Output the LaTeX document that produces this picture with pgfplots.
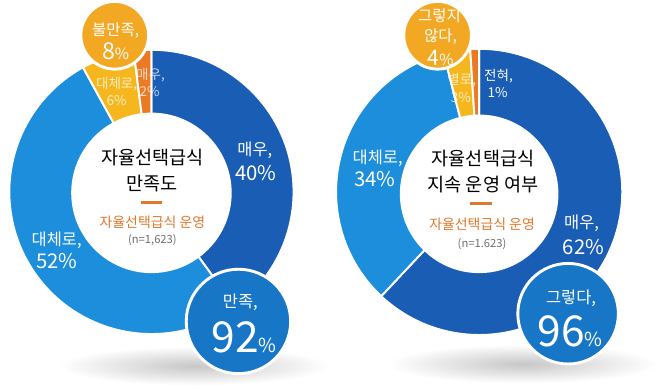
\documentclass[border=0pt]{standalone}
\usepackage{pgfplots}
\pgfplotsset{compat=1.18}
\usepackage{pgfplotstable}
\usepackage{fontspec}
\setmainfont{Noto Sans CJK KR}

\definecolor{dblue}{HTML}{1A5DB5}
\definecolor{lblue}{HTML}{1C8EDB}
\definecolor{ylw}{HTML}{F6B71E}
\definecolor{org}{HTML}{EC7A24}
\definecolor{cylw}{HTML}{F2A823}
\definecolor{cblue}{HTML}{1876C6}
\definecolor{txtorg}{HTML}{E0782C}
\definecolor{txtgray}{HTML}{6E6E6E}

% share in percent, clockwise from 12 o'clock
\pgfplotstableread{
share colour
40 dblue
52 lblue
6 ylw
2 org
}\satisfied
\pgfplotstableread{
share colour
62 dblue
34 lblue
3 ylw
1 org
}\continued

% one ring of wedges: table, centre x, centre y, radius (px; 1px = 0.5pt)
\newcommand\ring[4]{%
  \pgfplotstablegetrowsof{#1}%
  \pgfmathtruncatemacro\lastrow{\pgfplotsretval-1}%
  \def\angfrom{90}%
  \pgfplotsforeachungrouped \i in {0,...,\lastrow}{%
    \pgfplotstablegetelem{\i}{share}\of{#1}\let\share\pgfplotsretval
    \pgfplotstablegetelem{\i}{colour}\of{#1}\let\col\pgfplotsretval
    \pgfmathsetmacro\angto{\angfrom-3.6*\share}%
    \edef\drawwedge{\noexpand\fill[\col, draw=white, line width=1pt]
      (axis cs:#2,#3) -- ++(\angfrom:#4*0.5pt)
      arc[start angle=\angfrom, end angle=\angto, radius=#4*0.5pt] -- cycle;}%
    \drawwedge
    \global\let\angfrom\angto
  }%
}

\newcommand\fs[1]{\fontsize{#1}{#1}\selectfont}

\begin{document}
\begin{tikzpicture}[
    lbl/.style={text=white, inner sep=0pt, font=\fs{8.5}},
    num/.style={text=white, inner sep=0pt, font=\fs{10.5}},
    small/.style={text=white, text opacity=0.75, inner sep=0pt, font=\fs{7}},
  ]
  \begin{axis}[
      x=0.5pt, y=0.5pt,
      xmin=0, xmax=658, ymin=0, ymax=402,
      y dir=reverse,
      hide axis,
      clip=false,
    ]
    \path (axis cs:0,0) (axis cs:658,402);

    % shadows
    \shade[inner color=black!22, outer color=white] (axis cs:195,378) ellipse[x radius=70pt, y radius=10pt];
    \shade[inner color=black!22, outer color=white] (axis cs:535,376) ellipse[x radius=70pt, y radius=10pt];

    % left: satisfaction
    \ring{\satisfied}{151}{198}{147}
    \fill[white] (axis cs:151,199) circle[radius=41.5pt];
    \fill[cylw, draw=white, line width=1.5pt] (axis cs:113,36) circle[radius=17.5pt];
    \fill[cblue, draw=white, line width=1.5pt] (axis cs:241,332) circle[radius=27pt];

    \node[font=\fs{9.6}] at (axis cs:152,162) {자율선택급식};
    \node[font=\fs{9.6}] at (axis cs:152,189) {만족도};
    \fill[txtorg] (axis cs:140,207.5) rectangle (axis cs:162,210.5);
    \node[text=txtorg, font=\fs{7.2}] at (axis cs:152,229) {자율선택급식 운영};
    \node[text=txtgray, font=\fs{5.8}] at (axis cs:152,248) {(n=1,623)};

    \node[lbl] at (axis cs:258,155) {매우,};
    \node[num] at (axis cs:259,179) {40\%};
    \node[lbl] at (axis cs:53,248) {대체로,};
    \node[num] at (axis cs:53,270) {52\%};
    \node[small] at (axis cs:115,87) {대체로,};
    \node[small] at (axis cs:115,103) {6\%};
    \node[small] at (axis cs:150,77) {매우,};
    \node[small] at (axis cs:149,94) {2\%};
    \node[text=white, inner sep=0pt, font=\fs{8}] at (axis cs:114,31) {불만족,};
    \node[text=white, inner sep=0pt] at (axis cs:114,53) {{\fs{12}8}{\fs{8}\%}};
    \node[lbl] at (axis cs:243,312) {만족,};
    \node[text=white, inner sep=0pt] at (axis cs:247,348) {{\fs{22}92}{\fs{10}\%}};

    % right: continuation
    \ring{\continued}{490}{198}{148}
    \fill[white] (axis cs:490,200) circle[radius=41pt];
    \fill[cylw, draw=white, line width=1.5pt] (axis cs:447,36) circle[radius=17.5pt];
    \fill[cblue, draw=white, line width=1.5pt] (axis cs:582,324) circle[radius=26pt];

    \node[font=\fs{9.6}] at (axis cs:494,163) {자율선택급식};
    \node[font=\fs{9.6}] at (axis cs:494,190) {지속 운영 여부};
    \fill[txtorg] (axis cs:481,208.5) rectangle (axis cs:503,211.5);
    \node[text=txtorg, font=\fs{7.2}] at (axis cs:493,232) {자율선택급식 운영};
    \node[text=txtgray, font=\fs{5.8}] at (axis cs:493,252) {(n=1.623)};

    \node[lbl] at (axis cs:385,163) {대체로,};
    \node[num] at (axis cs:382,185) {34\%};
    \node[lbl] at (axis cs:596,230) {매우,};
    \node[num] at (axis cs:598,255) {62\%};
    \node[small, text opacity=1] at (axis cs:510,78) {전혀,};
    \node[small, text opacity=1] at (axis cs:509,95) {1\%};
    \node[small] at (axis cs:472,82) {별로,};
    \node[small] at (axis cs:471,100) {3\%};
    \node[text=white, inner sep=0pt, font=\fs{8}] at (axis cs:449,16) {그렇지};
    \node[text=white, inner sep=0pt, font=\fs{8}] at (axis cs:450,37) {않다,};
    \node[text=white, inner sep=0pt] at (axis cs:450,60) {{\fs{11}4}{\fs{8}\%}};
    \node[lbl] at (axis cs:585,308) {그렇다,};
    \node[text=white, inner sep=0pt] at (axis cs:584,342) {{\fs{22}96}{\fs{10}\%}};
  \end{axis}
\end{tikzpicture}
\end{document}
